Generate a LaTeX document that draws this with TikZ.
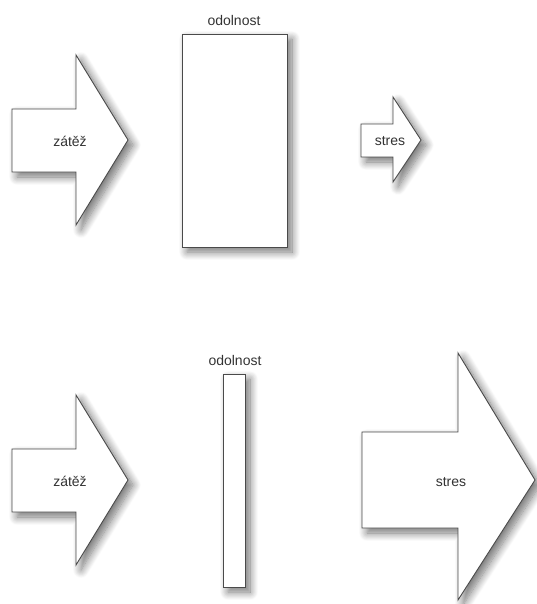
\documentclass[tikz,border=0pt]{standalone}
\usepackage{fontspec}
\setmainfont{Liberation Sans}
\usetikzlibrary{shadows.blur}
\definecolor{edgegray}{HTML}{4A4A4A}
\definecolor{txtgray}{HTML}{333333}
\tikzset{
  shapebox/.style={draw=edgegray, line width=0.9pt, fill=white,
    blur shadow={shadow xshift=5pt, shadow yshift=-5pt, shadow blur radius=8pt, shadow blur steps=12, shadow opacity=55}},
  lbl/.style={text=txtgray, font=\fontsize{14}{16}\selectfont, inner sep=0pt}
}
\begin{document}
\begin{tikzpicture}[x=1pt,y=-1pt]
\useasboundingbox (0,0) rectangle (536,604);
% top row
\path[shapebox] (12,109) -- (76,109) -- (76,55) -- (128,140) -- (76,225) -- (76,172) -- (12,172) -- cycle;
\node[lbl] (zatez1) at (70,141) {zátěž};
\path[shapebox] (182,34) rectangle (287,247);
\node[lbl] (odol1) at (234,20) {odolnost};
\path[shapebox] (361,124) -- (393,124) -- (393,97) -- (421,140) -- (393,182) -- (393,157) -- (361,157) -- cycle;
\node[lbl] (stres1) at (390,141) {stres};
% bottom row
\path[shapebox] (12,449) -- (76,449) -- (76,395) -- (128,480) -- (76,565) -- (76,512) -- (12,512) -- cycle;
\node[lbl] (zatez2) at (70,481) {zátěž};
\path[shapebox] (223,374) rectangle (245,587);
\node[lbl] (odol2) at (235,360) {odolnost};
\path[shapebox] (362,432) -- (458,432) -- (458,353) -- (535,480) -- (458,600) -- (458,528) -- (362,528) -- cycle;
\node[lbl] (stres2) at (451,482) {stres};
\end{tikzpicture}
\end{document}
